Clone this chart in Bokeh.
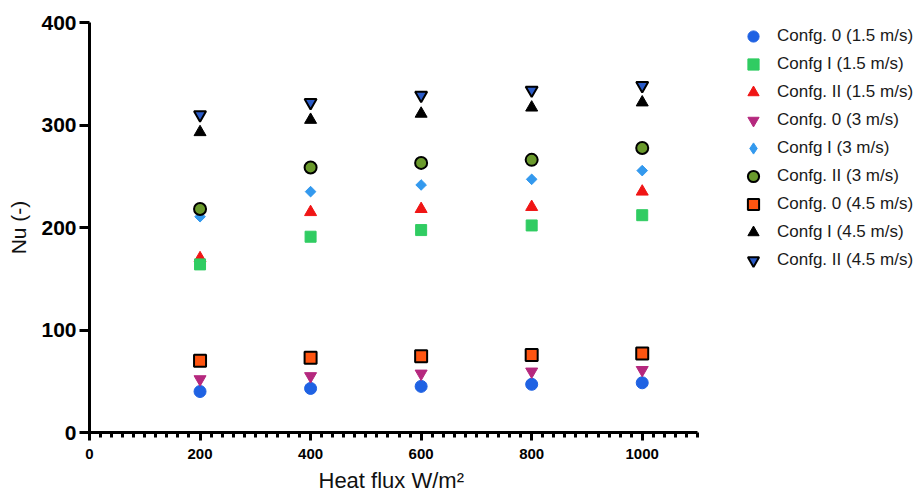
import math
from bokeh.plotting import figure
from bokeh.models import SingleIntervalTicker, Legend, LegendItem, Range1d, Title
from bokeh.embed import file_html
from bokeh.resources import INLINE

heat_flux = [200, 400, 600, 800, 1000]

conf0_15 = [40, 43, 45, 47, 48.5]
confI_15 = [164, 191, 197.5, 202, 212]
confII_15 = [170, 215, 218, 220, 235]
conf0_3 = [52, 55, 57.5, 59.5, 61]
confI_3 = [210.5, 235, 241.5, 247, 255.5]
confII_3 = [218, 258.5, 263, 266, 277.5]
conf0_45 = [70, 73, 74.5, 75.5, 77]
confI_45 = [293, 305, 311, 317, 322]
confII_45 = [310, 322, 329, 334, 338.5]

labels = [
    "Confg. 0 (1.5 m/s)", "Confg I (1.5 m/s)", "Confg. II (1.5 m/s)",
    "Confg. 0 (3 m/s)", "Confg I (3 m/s)", "Confg. II (3 m/s)",
    "Confg. 0 (4.5 m/s)", "Confg I (4.5 m/s)", "Confg. II (4.5 m/s)",
]
x_ticks = [0, 200, 400, 600, 800, 1000]
y_ticks = [0, 100, 200, 300, 400]
x_axis_end = 1100
y_axis_end = 400
x_label = "Heat flux W/m\u00b2"
y_label = "Nu (-)"

# frame extends under the legend; the axis itself stops at x_axis_end
frame_px = 917 - 89
axis_px = 608
p = figure(width=917, height=497, output_backend="svg", toolbar_location=None,
           x_range=Range1d(0, x_axis_end * frame_px / axis_px), y_range=Range1d(0, y_axis_end),
           min_border_left=89, min_border_right=0, min_border_top=22,
           min_border_bottom=65)
p.outline_line_color = None
p.xgrid.visible = False
p.ygrid.visible = False
p.background_fill_color = "white"

series = [
    (conf0_15, "circle", "#1f62e3", None, 12, 0, 0),
    (confI_15, "square", "#30cc62", None, 11, 0, 0),
    (confII_15, "triangle", "#f01515", None, 12, 0, 0),
    (conf0_3, "inverted_triangle", "#b5287e", None, 12, 0, 0),
    (confI_3, "square", "#3399ee", None, 7.5, 0, math.pi / 4),
    (confII_3, "circle", "#6a9a2c", "black", 12, 2, 0),
    (conf0_45, "square", "#ff5511", "black", 12, 2, 0),
    (confI_45, "triangle", "black", "black", 12, 1, 0),
    (confII_45, "inverted_triangle", "#2a5bc8", "black", 12, 2, 0),
]
order = [0, 2, 1, 3, 4, 5, 6, 7, 8]
renderers = {}
for i in order:
    ys, marker, fill, line, size, lw, ang = series[i]
    if i == 4:
        # diamond used for the legend entry, hidden under the rotated squares
        proxy = p.scatter(heat_flux, ys, marker="diamond", size=9,
                          fill_color=fill, line_color=fill)
    r = p.scatter(heat_flux, ys, marker=marker, size=size, fill_color=fill,
                  line_color=line if line else fill, line_width=lw if lw else 1,
                  angle=ang)
    renderers[i] = proxy if i == 4 else r

legend = Legend(items=[LegendItem(label=labels[i], renderers=[renderers[i]]) for i in range(9)],
                location=(650, 158), padding=0, margin=0, spacing=0,
                glyph_width=28, glyph_height=28, label_height=28, label_standoff=10,
                label_text_font="Liberation Sans", label_text_font_size="17px",
                label_text_color="#1a1a1a", border_line_color=None,
                background_fill_alpha=0)
p.add_layout(legend, "center")

xa = p.xaxis[0]
xa.bounds = (0, x_axis_end)
xa.ticker = SingleIntervalTicker(interval=200, num_minor_ticks=10)
xa.axis_line_width = 3
xa.major_tick_line_width = 3
xa.minor_tick_line_width = 3
xa.major_tick_out = 8
xa.major_tick_in = 0
xa.minor_tick_out = 5
xa.minor_tick_in = 0
xa.major_label_standoff = 8
xa.major_label_text_font = "Liberation Sans"
xa.major_label_text_font_style = "bold"
xa.major_label_text_font_size = "15px"
xa.major_label_text_color = "black"

# x-axis title centred under the axis (not under the wider frame)
xt = Title(text=x_label, align="left", offset=229, standoff=9,
           text_font="Liberation Sans", text_font_style="normal",
           text_font_size="22px", text_color="#111111")
p.add_layout(xt, "below")

ya = p.yaxis[0]
ya.ticker = SingleIntervalTicker(interval=100, num_minor_ticks=0)
ya.axis_line_width = 3
ya.major_tick_line_width = 3
ya.major_tick_out = 10
ya.major_tick_in = 0
ya.minor_tick_out = 0
ya.minor_tick_in = 0
ya.major_label_standoff = 3
ya.major_label_text_font = "Liberation Sans"
ya.major_label_text_font_style = "bold"
ya.major_label_text_font_size = "21px"
ya.major_label_text_color = "black"
ya.axis_label = y_label
ya.axis_label_text_font = "Liberation Sans"
ya.axis_label_text_font_style = "normal"
ya.axis_label_text_font_size = "21px"
ya.axis_label_text_color = "#111111"
ya.axis_label_standoff = 8

open("out.html", "w").write(file_html(p, INLINE))
